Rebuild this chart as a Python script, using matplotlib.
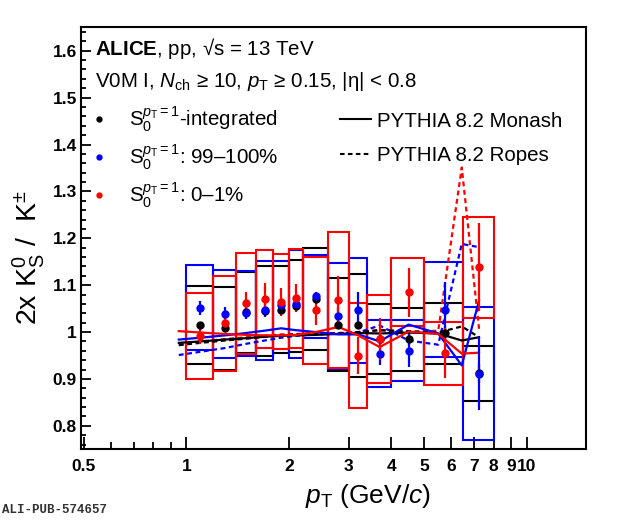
import matplotlib
matplotlib.use("Agg")
import matplotlib.pyplot as plt
from matplotlib.lines import Line2D
from matplotlib.patches import Rectangle
from matplotlib.ticker import FixedLocator, FuncFormatter, MultipleLocator
import numpy as np

plt.rcParams['font.family'] = ['Liberation Sans', 'DejaVu Sans']
plt.rcParams['mathtext.fontset'] = 'custom'
plt.rcParams['mathtext.rm'] = 'Liberation Sans'
plt.rcParams['mathtext.it'] = 'Liberation Sans:italic'
plt.rcParams['mathtext.bf'] = 'Liberation Sans:bold'

# pT bins of the data
bin_lo = [1.0, 1.2, 1.4, 1.6, 1.8, 2.0, 2.2, 2.6, 3.0, 3.4, 4.0, 5.0, 6.5]
bin_hi = [1.2, 1.4, 1.6, 1.8, 2.0, 2.2, 2.6, 3.0, 3.4, 4.0, 5.0, 6.5, 8.0]

# S0 integrated (black)
int_val = [1.015, 1.008, 1.042, 1.045, 1.048, 1.055, 1.070, 1.016, 1.014, 0.985, 0.985, 0.997, 0.912]
int_stat = [0.004, 0.004, 0.005, 0.005, 0.005, 0.006, 0.006, 0.007, 0.008, 0.010, 0.012, 0.015, 0.020]
int_sys = [0.084, 0.089, 0.086, 0.095, 0.092, 0.098, 0.109, 0.100, 0.109, 0.075, 0.067, 0.065, 0.058]

# S0 99-100% (blue)
high_val = [1.052, 1.039, 1.040, 1.046, 1.057, 1.060, 1.076, 1.034, 1.046, 0.954, 0.960, 1.048, 0.911]
high_stat = [0.015, 0.015, 0.013, 0.014, 0.011, 0.012, 0.010, 0.020, 0.040, 0.025, 0.035, 0.058, 0.078]
high_sys = [0.091, 0.094, 0.091, 0.105, 0.094, 0.115, 0.089, 0.113, 0.113, 0.071, 0.065, 0.102, 0.142]

# S0 0-1% (red)
low_val = [0.992, 1.019, 1.061, 1.071, 1.065, 1.072, 1.046, 1.068, 0.950, 0.985, 1.085, 0.955, 1.138]
low_stat = [0.018, 0.016, 0.025, 0.033, 0.030, 0.030, 0.030, 0.051, 0.040, 0.044, 0.052, 0.054, 0.094]
low_sys = [0.092, 0.101, 0.107, 0.104, 0.102, 0.105, 0.115, 0.145, 0.112, 0.093, 0.072, 0.067, 0.108]

# PYTHIA 8.2 curves
mc_pt = [0.95, 1.1, 1.3, 1.5, 1.7, 1.9, 2.1, 2.4, 2.8, 3.2, 3.7, 4.5, 5.5, 6.45, 7.25]
monash_int = [0.977, 0.980, 0.984, 0.987, 0.990, 0.992, 0.993, 0.994, 0.996, 0.998, 0.997, 0.999, 0.997, 0.982, 0.989]
ropes_int = [0.972, 0.977, 0.982, 0.986, 0.990, 0.993, 0.995, 0.996, 0.997, 1.000, 1.004, 1.002, 0.999, 1.012, 0.989]
monash_high = [0.984, 0.988, 0.993, 0.998, 1.003, 1.008, 1.004, 1.000, 0.995, 0.995, 0.980, 1.016, 0.997, 0.929, 1.067]
ropes_high = [0.951, 0.958, 0.966, 0.975, 0.982, 0.988, 0.992, 0.995, 0.997, 0.999, 1.014, 0.982, 0.973, 1.188, 1.181]
monash_low = [1.002, 0.999, 0.996, 0.994, 0.993, 0.993, 0.994, 1.000, 1.011, 0.993, 0.968, 1.001, 0.996, 0.954, 0.956]
ropes_low = [0.973, 0.980, 0.985, 0.989, 0.992, 0.995, 0.996, 0.997, 0.998, 1.000, 1.004, 1.000, 1.003, 1.351, 1.007]

x_ticks = [0.5, 1, 2, 3, 4, 5, 6, 7, 8, 9, 10]
x_minor = [0.6, 0.7, 0.8, 0.9]

BLUE = '#0000ff'
RED = '#ff0000'
dash = (0, (2.2, 1.6))

fig = plt.figure(figsize=(6.2, 5.2), dpi=100)
ax = fig.add_axes([0.1306, 0.136, 0.8153, 0.8115])
ax.set_xscale('log')
ax.set_xlim(0.49, 15)
ax.set_ylim(0.75, 1.65)

lo = np.array(bin_lo)
hi = np.array(bin_hi)
centers = 0.5 * (lo + hi)

series = [
    (int_val, int_stat, int_sys, 'black'),
    (high_val, high_stat, high_sys, BLUE),
    (low_val, low_stat, low_sys, RED),
]
for val, stat, sys, col in series:
    for i in range(len(val)):
        ax.add_patch(Rectangle((lo[i], val[i] - sys[i]), hi[i] - lo[i], 2 * sys[i],
                               fill=False, edgecolor=col, lw=1.5, zorder=2))

# model curves
ax.plot(mc_pt, ropes_low, color=RED, ls=dash, lw=1.6, zorder=3)
ax.plot(mc_pt, ropes_high, color=BLUE, ls=dash, lw=1.6, zorder=3)
ax.plot(mc_pt, ropes_int, color='black', ls=dash, lw=1.6, zorder=3)
ax.plot(mc_pt, monash_int, color='black', lw=1.6, zorder=3)
ax.plot(mc_pt, monash_high, color=BLUE, lw=1.6, zorder=3)
ax.plot(mc_pt, monash_low, color=RED, lw=1.6, zorder=3)

for val, stat, sys, col in series:
    ax.errorbar(centers, val, yerr=stat, fmt='o', color=col, ms=5, elinewidth=1.6,
                capsize=0, zorder=4)

# axes styling
for sp in ax.spines.values():
    sp.set_linewidth(1.5)
ax.xaxis.set_major_locator(FixedLocator(x_ticks))
ax.xaxis.set_minor_locator(FixedLocator(x_minor))
ax.xaxis.set_major_formatter(FuncFormatter(lambda v, p: f'{v:g}'))
ax.xaxis.set_minor_formatter(FuncFormatter(lambda v, p: ''))
ax.yaxis.set_major_locator(MultipleLocator(0.1))
ax.yaxis.set_minor_locator(MultipleLocator(0.02))
ax.yaxis.set_major_formatter(FuncFormatter(lambda v, p: f'{v:g}'))
ax.tick_params(axis='both', which='both', direction='in', width=1.3,
               top=False, right=False)
ax.tick_params(axis='x', which='major', length=9, pad=7, labelsize=12.5)
ax.tick_params(axis='x', which='minor', length=5)
ax.tick_params(axis='y', which='major', length=7, pad=3, labelsize=12.5)
ax.tick_params(axis='y', which='minor', length=3.5)
for lab in ax.get_xticklabels() + ax.get_yticklabels():
    lab.set_fontweight('bold')

ax.set_xlabel(r'$p_{\mathrm{T}}$ (GeV/$c$)', fontsize=19)
ax.xaxis.set_label_coords(0.568, -0.078)
ax.set_ylabel(r'2x K$^{0}_{\mathrm{S}}$ /  K$^{\pm}$', fontsize=20.5)
ax.yaxis.set_label_coords(-0.068, 0.455)

ax.text(0.028, 0.9486, r'$\mathbf{ALICE}$, pp, √s = 13 TeV', transform=ax.transAxes,
        fontsize=14.8, va='center')
ax.text(0.028, 0.8704, r'V0M I, $N_{\mathrm{ch}}$ ≥ 10, $p_{\mathrm{T}}$ ≥ 0.15, |η| < 0.8',
        transform=ax.transAxes, fontsize=14.8, va='center')

s0 = r'$\mathrm{S}_{0}^{p_{\mathrm{T}}=1}$'
h_data = [Line2D([], [], ls='none', marker='o', ms=3.5, color=c) for c in ['black', BLUE, RED]]
leg1 = ax.legend(h_data, [s0 + '-integrated', s0 + ': 99–100%', s0 + ': 0–1%'],
                 loc='upper left', bbox_to_anchor=(0.0, 0.831), frameon=False,
                 fontsize=14.8, handlelength=1.2, handletextpad=0.85, labelspacing=0.42,
                 borderaxespad=0.0, borderpad=0.3)
ax.add_artist(leg1)
h_mc = [Line2D([], [], color='black', lw=1.5), Line2D([], [], color='black', lw=1.5, ls=dash)]
ax.legend(h_mc, ['PYTHIA 8.2 Monash', 'PYTHIA 8.2 Ropes'], loc='upper left',
          bbox_to_anchor=(0.5, 0.815), frameon=False, fontsize=14.8, handlelength=1.5,
          handletextpad=0.3, labelspacing=0.75, borderaxespad=0.0, borderpad=0.3)

fig.text(0.004, 0.013, 'ALI-PUB-574657', fontsize=9, family='Liberation Mono',
         fontweight='bold', color='#333333')

fig.savefig('out.png', dpi=100)
